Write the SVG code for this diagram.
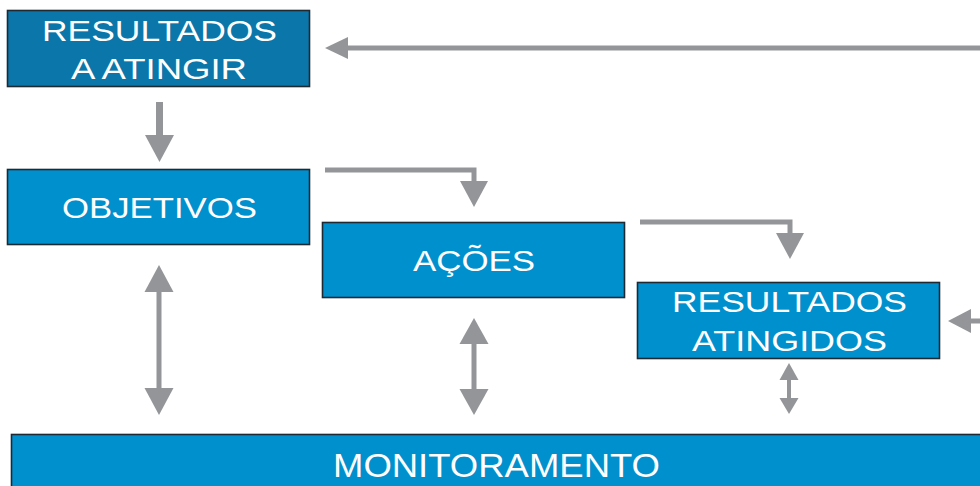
<svg xmlns="http://www.w3.org/2000/svg" width="980" height="486" viewBox="0 0 980 486">
<defs>
<style>
.box{fill:#0090cd;stroke:#1e2a33;stroke-width:1.6}
.dark{fill:#0a76a9}
.lbl{font-family:"Liberation Sans",Arial,sans-serif;fill:#ffffff;text-anchor:middle;font-size:29.5px}
.ln{stroke:#939598;fill:none;stroke-width:5}
.hd{fill:#939598}
</style>
</defs>
<rect width="980" height="486" fill="#ffffff"/>
<g id="connectors">
  <line class="ln" x1="980" y1="48" x2="345" y2="48"/>
  <polygon class="hd" points="325,48 348,37 348,59"/>
  <line class="ln" x1="159.5" y1="102" x2="159.5" y2="137" style="stroke-width:7"/>
  <polygon class="hd" points="145,135 174,135 159.5,162"/>
  <polyline class="ln" points="325,170 474,170 474,183"/>
  <polygon class="hd" points="460,181 488,181 474,207"/>
  <polyline class="ln" points="640,222 790,222 790,235"/>
  <polygon class="hd" points="776,233 804,233 790,259"/>
  <line class="ln" x1="980" y1="321" x2="968" y2="321"/>
  <polygon class="hd" points="948,321 971,309 971,333"/>
  <line class="ln" x1="159" y1="290" x2="159" y2="390"/>
  <polygon class="hd" points="159,265 173.5,292 144.5,292"/>
  <polygon class="hd" points="144.5,388 173.5,388 159,415"/>
  <line class="ln" x1="474" y1="342" x2="474" y2="391"/>
  <polygon class="hd" points="474,318 488.5,344 459.5,344"/>
  <polygon class="hd" points="459.5,389 488.5,389 474,415"/>
  <line class="ln" x1="789" y1="378" x2="789" y2="400" style="stroke-width:4"/>
  <polygon class="hd" points="789,363 798.5,380 779.5,380"/>
  <polygon class="hd" points="779.5,398 798.5,398 789,414"/>
</g>
<g id="resultados-a-atingir">
  <rect class="box dark" x="7.5" y="10.5" width="302" height="76"/>
  <text class="lbl" x="159.5" y="41" textLength="235" lengthAdjust="spacingAndGlyphs">RESULTADOS</text>
  <text class="lbl" x="159" y="79" textLength="176" lengthAdjust="spacingAndGlyphs">A ATINGIR</text>
</g>
<g id="objetivos">
  <rect class="box" x="7.5" y="169.5" width="302" height="75"/>
  <text class="lbl" x="159.5" y="218" textLength="195" lengthAdjust="spacingAndGlyphs">OBJETIVOS</text>
</g>
<g id="acoes">
  <rect class="box" x="322.5" y="222.5" width="302" height="75"/>
  <text class="lbl" x="474" y="271" textLength="122" lengthAdjust="spacingAndGlyphs">AÇÕES</text>
</g>
<g id="resultados-atingidos">
  <rect class="box" x="637.5" y="282.5" width="302" height="76"/>
  <text class="lbl" x="789.5" y="312" textLength="235" lengthAdjust="spacingAndGlyphs">RESULTADOS</text>
  <text class="lbl" x="789.5" y="351" textLength="195" lengthAdjust="spacingAndGlyphs">ATINGIDOS</text>
</g>
<g id="monitoramento">
  <rect class="box" x="11.5" y="434.5" width="975" height="60"/>
  <text class="lbl" x="496.5" y="477" style="font-size:34px" textLength="327" lengthAdjust="spacingAndGlyphs">MONITORAMENTO</text>
</g>
</svg>
